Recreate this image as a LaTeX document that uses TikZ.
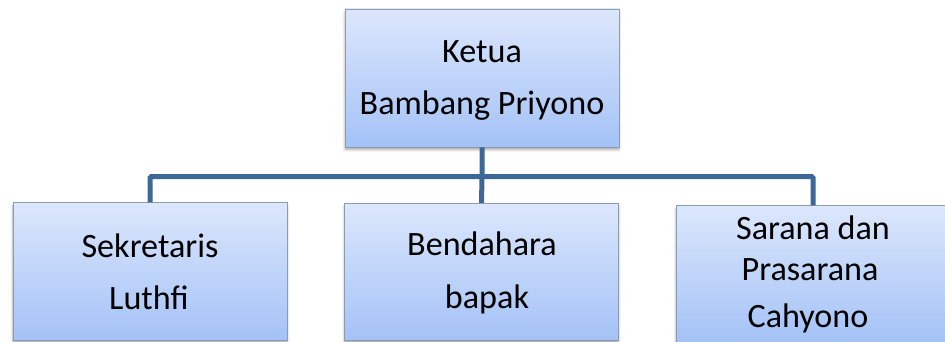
\documentclass[tikz,border=0pt]{standalone}
\usepackage{fontspec}
\setmainfont{Carlito}
\usetikzlibrary{shadows.blur}

\definecolor{boxtop}{HTML}{DCE7FC}
\definecolor{boxbottom}{HTML}{A4C2F7}
\definecolor{boxedge}{HTML}{8C9BB0}
\definecolor{linkblue}{HTML}{3D6796}

\tikzset{
  orgbox/.style={rectangle, inner sep=0pt, minimum width=205.5pt,
    minimum height=103pt, draw=boxedge, line width=0.6pt,
    top color=boxtop, bottom color=boxbottom,
    blur shadow={shadow xshift=0pt, shadow yshift=-2pt,
      shadow blur steps=5, shadow opacity=35}},
  boxtext/.style={anchor=base, inner sep=0pt, font=\fontsize{25.6}{30}\selectfont},
  link/.style={draw=linkblue, line width=3.75pt, rounded corners=1pt}
}

\begin{document}
\begin{tikzpicture}[x=0.75pt, y=-0.75pt]
  \useasboundingbox (0,0) rectangle (945,342);
  \clip (0,0) rectangle (945,342);

  % boxes
  \node[orgbox, minimum height=103.5pt] (ketua) at (482,78) {};
  \node[orgbox] (sek) at (150,271.5) {};
  \node[orgbox] (bend) at (481.5,272) {};
  \node[orgbox] (sarana) at (813,274.5) {};

  % connectors
  \coordinate (bar) at (482,176.5);
  \draw[link] (ketua.south) -- (bar) -| (sek.north);
  \draw[link] (bar) -| (sarana.north);
  \draw[link] (bar) -- (bend.north);

  % labels
  \node[boxtext] (t1) at (482,63) {Ketua};
  \node[boxtext] (t2) at (482,115) {Bambang Priyono};
  \node[boxtext] (s1) at (150,257) {Sekretaris};
  \node[boxtext] (s2) at (149,309) {Luthfi};
  \node[boxtext] (b1) at (482,255) {Bendahara};
  \node[boxtext] (b2) at (487,308) {bapak};
  \node[boxtext] (r1) at (813,239) {Sarana dan};
  \node[boxtext] (r2) at (810,280) {Prasarana};
  \node[boxtext] (r3) at (808,327) {Cahyono};
\end{tikzpicture}
\end{document}
